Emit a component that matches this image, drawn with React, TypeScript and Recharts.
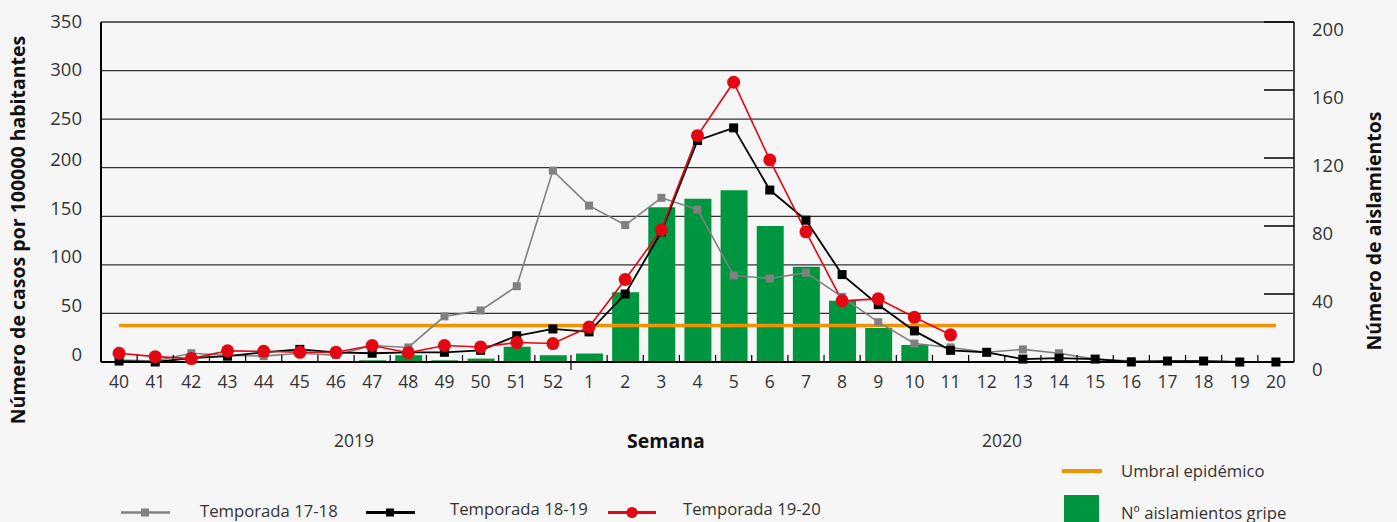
import React from "react";
import { ComposedChart, Bar, Line, XAxis, YAxis, CartesianGrid } from "recharts";

if (typeof document !== "undefined") {
  document.body.style.margin = "0";
  document.body.style.background = "#f6f6f6";
}

// semanas epidemiológicas 40/2019 - 20/2020
const WEEKS = [
  "40", "41", "42", "43", "44", "45", "46", "47", "48", "49", "50", "51", "52",
  "1", "2", "3", "4", "5", "6", "7", "8", "9", "10", "11", "12", "13", "14", "15", "16", "17", "18", "19", "20",
];

const TEMPORADA_17_18 = [
  2, 1, 9, 7, 6, 9, 7, 17, 15, 47, 53, 78, 197,
  161, 141, 169, 157, 89, 86, 92, 67, 41, 19, 15, 10, 13, 9, 3, 1, 1, 1, 0, 0,
];

const TEMPORADA_18_19 = [
  1, 0, 4, 6, 10, 13, 10, 9, 10, 10, 12, 27, 34,
  31, 70, 134, 228, 241, 177, 146, 90, 59, 32, 12, 10, 3, 4, 3, 0, 1, 1, 0, 0,
];

const TEMPORADA_19_20: (number | null)[] = [
  9, 5.5, 3.5, 11.5, 11, 10, 10, 17, 9.5, 17, 15.5, 20, 19,
  36, 85, 136, 233, 288, 208, 134, 63, 65, 46, 28, null, null, null, null, null, null, null, null, null,
];

const AISLAMIENTOS = [
  0, 0, 0, 0, 0, 0, 0, 1, 4, 1, 2, 9, 4,
  5, 41, 91, 96, 101, 80, 56, 36, 20, 10, 0, 0, 0, 0, 0, 0, 0, 0, 0, 0,
];

const UMBRAL = 37.6;

const LEFT_TICKS = [0, 50, 100, 150, 200, 250, 300, 350];
const RIGHT_TICKS = [0, 40, 80, 120, 160, 200];

const W = 1397;
const H = 522;
const PLOT_LEFT = 101;
const PLOT_RIGHT = 1294;
const PLOT_TOP = 22;
const PLOT_BOTTOM = 362;
const BAND = (PLOT_RIGHT - PLOT_LEFT) / WEEKS.length;

const FONT = "'Open Sans', sans-serif";
const TEXT = "#333";
const GRAY = "#808080";
const RED = "#e30613";
const ORANGE = "#f39200";
const GREEN = "#00963f";

const data = WEEKS.map((week, i) => ({
  week,
  t1718: TEMPORADA_17_18[i],
  t1819: TEMPORADA_18_19[i],
  t1920: TEMPORADA_19_20[i],
  aislamientos: AISLAMIENTOS[i],
  umbral: UMBRAL,
}));

const squareDot = (color: string, size: number) => (props: any) => {
  const { cx, cy, index } = props;
  if (cx == null || cy == null) return <g key={`sq-${index}`} />;
  return (
    <rect key={`sq-${index}`} x={cx - size / 2} y={cy - size / 2} width={size} height={size} fill={color} />
  );
};

const WeekTick = (props: any) => {
  const { x, y, payload, index } = props;
  const bx = x - BAND / 2;
  return (
    <g>
      {index > 0 && <line x1={bx} x2={bx} y1={y} y2={y - 7} stroke="#000" strokeWidth={1.2} />}
      {payload.value === "1" && <line x1={bx} x2={bx} y1={y} y2={y + 8} stroke="#000" strokeWidth={1.2} />}
      <text x={x} y={y + 19} textAnchor="middle" dominantBaseline="central" fontSize={17.5} fill={TEXT} fontFamily={FONT}>
        {payload.value}
      </text>
    </g>
  );
};

const LeftTick = (props: any) => {
  const { x, y, payload } = props;
  const dy = payload.value >= 250 ? -2 : -9;
  return (
    <text x={x - 19} y={y + dy} textAnchor="end" dominantBaseline="central" fontSize={18.5} fill={TEXT} fontFamily={FONT}>
      {payload.value}
    </text>
  );
};

const RightTick = (props: any) => {
  const { x, y, payload } = props;
  return (
    <g>
      <line x1={x - 30} x2={x} y1={y} y2={y} stroke="#000" strokeWidth={1.5} />
      <text x={x + 18} y={y + 6} textAnchor="start" dominantBaseline="central" fontSize={18.5} fill={TEXT} fontFamily={FONT}>
        {payload.value}
      </text>
    </g>
  );
};

function Overlay() {
  const label = { fontFamily: FONT, fill: TEXT, dominantBaseline: "central" as const };
  return (
    <svg width={W} height={H} style={{ position: "absolute", left: 0, top: 0, pointerEvents: "none" }}>
      <text {...label} x={17} y={230} textAnchor="middle" fontSize={19.5} fontWeight={700} fill="#111" transform="rotate(-90 17 230)">
        Número de casos por 100000 habitantes
      </text>
      <text {...label} x={1373} y={231} textAnchor="middle" fontSize={19.5} fontWeight={700} fill="#111" transform="rotate(-90 1373 231)">
        Número de aislamientos
      </text>
      <text {...label} x={354} y={440} textAnchor="middle" fontSize={17.5}>2019</text>
      <text {...label} x={666} y={440} textAnchor="middle" fontSize={19.5} fontWeight={700} fill="#111">Semana</text>
      <text {...label} x={1002} y={440} textAnchor="middle" fontSize={17.5}>2020</text>

      <line x1={121} x2={170} y1={512.5} y2={512.5} stroke={GRAY} strokeWidth={2.5} />
      <rect x={141} y={508.5} width={8} height={8} fill={GRAY} />
      <text {...label} x={200} y={510} fontSize={16.7}>Temporada 17-18</text>

      <line x1={366} x2={415} y1={512.5} y2={512.5} stroke="#000" strokeWidth={3} />
      <rect x={386} y={508.5} width={8} height={8} fill="#000" />
      <text {...label} x={450} y={508} fontSize={16.7}>Temporada 18-19</text>

      <line x1={608} x2={656} y1={512.5} y2={512.5} stroke={RED} strokeWidth={3} />
      <circle cx={632} cy={512.5} r={5.5} fill={RED} />
      <text {...label} x={683} y={508} fontSize={16.7}>Temporada 19-20</text>

      <line x1={1062} x2={1102} y1={471} y2={471} stroke={ORANGE} strokeWidth={4} />
      <text {...label} x={1121} y={470} fontSize={16.7}>Umbral epidémico</text>

      <rect x={1064} y={495} width={35} height={27} fill={GREEN} />
      <text {...label} x={1121} y={512} fontSize={16.7}>Nº aislamientos gripe</text>
    </svg>
  );
}

export default function App() {
  return (
    <div style={{ position: "relative", width: W, height: H, background: "#f6f6f6", fontFamily: FONT }}>
      <ComposedChart
        width={W}
        height={H}
        data={data}
        margin={{ top: PLOT_TOP, left: PLOT_LEFT - 60, right: W - PLOT_RIGHT - 60, bottom: H - PLOT_BOTTOM - 40 }}
      >
        <CartesianGrid yAxisId="left" vertical={false} stroke="#333" strokeWidth={1.3} />
        <XAxis
          dataKey="week"
          height={40}
          interval={0}
          tickSize={0}
          tickMargin={0}
          tickLine={false}
          axisLine={{ stroke: "#000", strokeWidth: 2 }}
          tick={<WeekTick />}
        />
        <YAxis
          yAxisId="left"
          width={60}
          domain={[0, 350]}
          ticks={LEFT_TICKS}
          tickSize={0}
          tickMargin={0}
          tickLine={false}
          axisLine={{ stroke: "#000", strokeWidth: 2 }}
          tick={<LeftTick />}
        />
        <YAxis
          yAxisId="right"
          orientation="right"
          width={60}
          domain={[0, 200]}
          ticks={RIGHT_TICKS}
          tickSize={0}
          tickMargin={0}
          tickLine={false}
          axisLine={{ stroke: "#444", strokeWidth: 2 }}
          tick={<RightTick />}
        />
        <Bar yAxisId="right" dataKey="aislamientos" fill={GREEN} barSize={27} isAnimationActive={false} />
        <Line
          yAxisId="left"
          dataKey="umbral"
          stroke={ORANGE}
          strokeWidth={3.5}
          dot={false}
          activeDot={false}
          isAnimationActive={false}
        />
        <Line
          yAxisId="left"
          dataKey="t1718"
          stroke={GRAY}
          strokeWidth={1.6}
          dot={squareDot(GRAY, 8)}
          activeDot={false}
          isAnimationActive={false}
        />
        <Line
          yAxisId="left"
          dataKey="t1819"
          stroke="#000"
          strokeWidth={1.8}
          dot={squareDot("#000", 9)}
          activeDot={false}
          isAnimationActive={false}
        />
        <Line
          yAxisId="left"
          dataKey="t1920"
          stroke={RED}
          strokeWidth={1.6}
          dot={{ r: 6.5, fill: RED, stroke: RED, strokeWidth: 0 }}
          activeDot={false}
          isAnimationActive={false}
        />
      </ComposedChart>
      <Overlay />
    </div>
  );
}
